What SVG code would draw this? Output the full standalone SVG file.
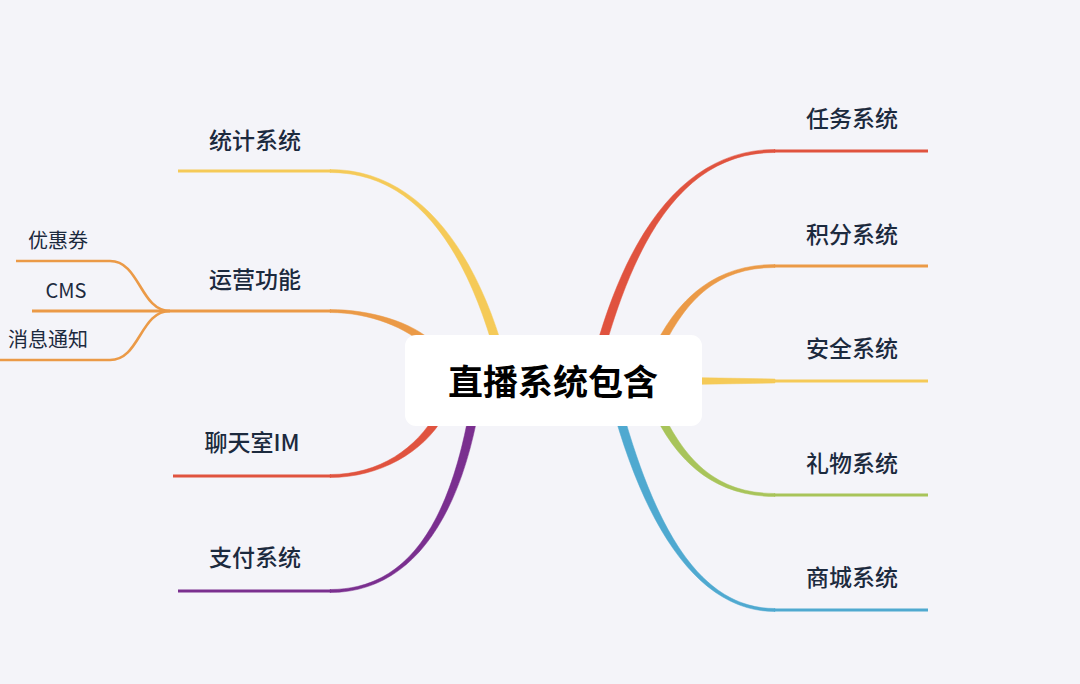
<svg xmlns="http://www.w3.org/2000/svg" width="1080" height="684" viewBox="0 0 1080 684">
<style>
.bg{fill:#f4f4f9}
.line{fill:none;stroke-width:3;stroke-linecap:butt}
.sub{fill:none;stroke-width:2.6}
.lbl{font-family:"Noto Sans CJK SC","Noto Sans",sans-serif;font-size:23px;font-weight:500;fill:#1c2a3e;text-anchor:middle;dominant-baseline:central}
.slbl{font-family:"Noto Sans CJK SC","Noto Sans",sans-serif;font-size:20px;fill:#1c2a3e;text-anchor:middle;dominant-baseline:central}
.root{font-family:"Noto Sans CJK SC","Noto Sans",sans-serif;font-size:35px;font-weight:bold;fill:#000;text-anchor:middle;dominant-baseline:central}
.red{fill:#e0533f;stroke:#e0533f}
.org{fill:#eb9a47;stroke:#eb9a47}
.yel{fill:#f5ca58;stroke:#f5ca58}
.grn{fill:#a8c45a;stroke:#a8c45a}
.blu{fill:#4fa9d0;stroke:#4fa9d0}
.pur{fill:#7a2f8f;stroke:#7a2f8f}
</style>
<rect class="bg" x="0" y="0" width="1080" height="684"/>
<g id="connectors">
  <!-- right: 任务系统 -->
  <path class="red" stroke-width="0.5" d="M604.3,351.2 C639.3,226.2 690,152.5 775,152.5 L775,149.5 C690,149.5 630.7,223.8 595.7,348.8 Z"/>
  <line class="line red" x1="774" y1="151" x2="928" y2="151"/>
  <!-- right: 积分系统 -->
  <path class="org" stroke-width="0.5" d="M658.6,356.7 C683.6,301.7 715,267.5 775,267.5 L775,264.5 C715,264.5 676.4,298.3 651.4,353.3 Z"/>
  <line class="line org" x1="774" y1="266" x2="928" y2="266"/>
  <!-- right: 安全系统 -->
  <path class="yel" stroke-width="0.5" d="M690,377.5 L775,379 L775,383 L690,384.5 Z"/>
  <line class="line yel" x1="774" y1="381" x2="928" y2="381"/>
  <!-- right: 礼物系统 -->
  <path class="grn" stroke-width="0.5" d="M658.6,404.3 C683.6,459.3 715,493.5 775,493.5 L775,496.5 C715,496.5 676.4,462.7 651.4,407.7 Z"/>
  <line class="line grn" x1="774" y1="495" x2="928" y2="495"/>
  <!-- right: 商城系统 -->
  <path class="blu" stroke-width="0.5" d="M610.7,401.2 C645.7,531.2 700,611.5 775,611.5 L775,608.5 C700,608.5 654.3,528.8 619.3,398.8 Z"/>
  <line class="line blu" x1="774" y1="610" x2="928" y2="610"/>
  <!-- left: 统计系统 -->
  <path class="yel" stroke-width="0.5" d="M495.7,356.2 C467.7,256.2 420,172.5 330,172.5 L330,169.5 C420,169.5 476.3,253.8 504.3,353.8 Z"/>
  <line class="line yel" x1="331" y1="171" x2="178" y2="171"/>
  <!-- left: 运营功能 -->
  <path class="org" stroke-width="0.5" d="M427.2,347.8 C407.2,327.8 370,312.5 330,312.5 L330,309.5 C370,309.5 412.8,322.2 432.8,342.2 Z"/>
  <line class="line org" x1="331" y1="311" x2="32" y2="311"/>
  <path class="sub org" style="fill:none" d="M170,311 C140,311 140,261 110,261 L16,261"/>
  <path class="sub org" style="fill:none" d="M170,311 C140,311 140,360 110,360 L0,360"/>
  <!-- left: 聊天室IM -->
  <path class="red" stroke-width="0.5" d="M436.5,413 C416.5,448 380,474.5 330,474.5 L330,477.5 C380,477.5 423.5,452 443.5,417 Z"/>
  <line class="line red" x1="331" y1="476" x2="173" y2="476"/>
  <!-- left: 支付系统 -->
  <path class="pur" stroke-width="0.5" d="M470.6,404.2 C450.6,519.2 410,589.5 330,589.5 L330,592.5 C410,592.5 459.4,520.8 479.4,405.8 Z"/>
  <line class="line pur" x1="331" y1="591" x2="178" y2="591"/>
</g>
<g id="root">
  <rect x="405" y="335" width="297" height="91" rx="11" fill="#ffffff"/>
  <text class="root" x="553" y="379">直播系统包含</text>
</g>
<g id="n-renwu"><text class="lbl" x="852" y="117">任务系统</text></g>
<g id="n-jifen"><text class="lbl" x="852" y="233">积分系统</text></g>
<g id="n-anquan"><text class="lbl" x="852" y="347">安全系统</text></g>
<g id="n-liwu"><text class="lbl" x="852" y="462">礼物系统</text></g>
<g id="n-shangcheng"><text class="lbl" x="852" y="576">商城系统</text></g>
<g id="n-tongji"><text class="lbl" x="255" y="139">统计系统</text></g>
<g id="n-yunying"><text class="lbl" x="255" y="278">运营功能</text></g>
<g id="n-liaotian"><text class="lbl" x="252" y="441">聊天室IM</text></g>
<g id="n-zhifu"><text class="lbl" x="255" y="556">支付系统</text></g>
<g id="n-youhuiquan"><text class="slbl" x="58" y="239">优惠券</text></g>
<g id="n-cms"><text class="slbl" x="66" y="289">CMS</text></g>
<g id="n-xiaoxi"><text class="slbl" x="48" y="338">消息通知</text></g>
</svg>
